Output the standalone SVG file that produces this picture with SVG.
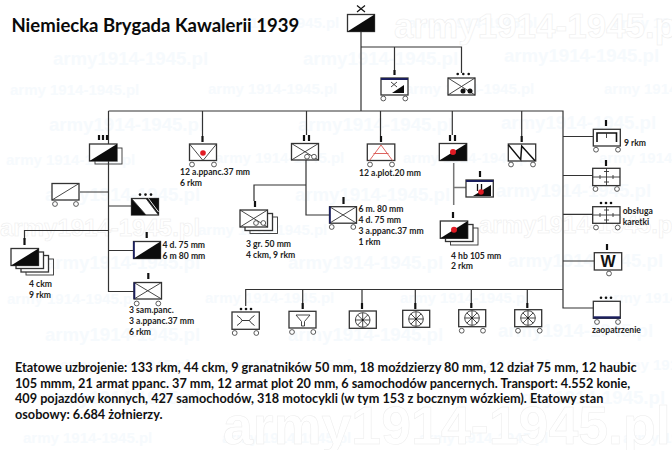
<svg xmlns="http://www.w3.org/2000/svg" width="672" height="450" viewBox="0 0 672 450">
<style>
.w1{font:bold 18.6px "Liberation Sans",sans-serif;fill:#f6fafd}
.w2{font:bold 15px "Liberation Sans",sans-serif;fill:#f6fafd}
.big{font-family:"Liberation Sans",sans-serif;font-weight:bold;fill:#fff;stroke:#ececec;stroke-width:.5}
.c{fill:none;stroke:#333;stroke-width:1.2}
.b{fill:#fff;stroke:#333;stroke-width:1.3}
.s{fill:none;stroke:#333;stroke-width:.9}
.k{fill:#0c0c0c}
.t{stroke:#111;stroke-width:2.2}
.wh{fill:#fff;stroke:#333;stroke-width:.8}
.d{fill:#111}
.n{fill:#1b1f5e}
.r{fill:#e01b24}
.l{font:bold 8.6px Lato,"Liberation Sans",sans-serif;fill:#222}
.p{font:bold 12.7px Lato,"Liberation Sans",sans-serif;fill:#111}
</style>
<rect width="672" height="450" fill="#fff"/>
<g id="watermarks">
<text class="w2" x="210" y="28">army 1914-1945.pl</text>
<text class="w2" x="408" y="28">army 1914-1945.pl</text>
<text class="w2" x="613" y="28">army 1914-1945.pl</text>
<text class="w1" x="53" y="65">army1914-1945.pl</text>
<text class="w1" x="303" y="65">army1914-1945.pl</text>
<text class="w1" x="504" y="62">army1914-1945.pl</text>
<text class="w2" x="10" y="95">army 1914-1945.pl</text>
<text class="w2" x="208" y="94">army 1914-1945.pl</text>
<text class="w2" x="405" y="94">army 1914-1945.pl</text>
<text class="w2" x="604" y="94">army 1914-1945.pl</text>
<text class="w1" x="49" y="131">army1914-1945.pl</text>
<text class="w1" x="298" y="131">army1914-1945.pl</text>
<text class="w1" x="501" y="129">army1914-1945.pl</text>
<text class="w2" x="6" y="165">army 1914-1945.pl</text>
<text class="w2" x="215" y="163">army 1914-1945.pl</text>
<text class="w2" x="403" y="163">army 1914-1945.pl</text>
<text class="w2" x="599" y="163">army 1914-1945.pl</text>
<text class="w1" x="45" y="201">army1914-1945.pl</text>
<text class="w1" x="295" y="201">army1914-1945.pl</text>
<text class="w1" x="496" y="197">army1914-1945.pl</text>
<text class="w2" x="198" y="235">army 1914-1945.pl</text>
<text class="w1" x="45" y="269">army1914-1945.pl</text>
<text class="w1" x="288" y="269">army1914-1945.pl</text>
<text class="w1" x="508" y="267">army1914-1945.pl</text>
<text class="w2" x="7" y="304">army 1914-1945.pl</text>
<text class="w2" x="205" y="303">army 1914-1945.pl</text>
<text class="w2" x="400" y="303">army 1914-1945.pl</text>
<text class="w2" x="605" y="303">army 1914-1945.pl</text>
<text class="w1" x="45" y="341">army1914-1945.pl</text>
<text class="w1" x="288" y="341">army1914-1945.pl</text>
<text class="w1" x="498" y="337">army1914-1945.pl</text>
<text class="w2" x="60" y="370">army 1914-1945.pl</text>
<text class="w2" x="222" y="370">army 1914-1945.pl</text>
<text class="w2" x="420" y="370">army 1914-1945.pl</text>
<text class="w2" x="613" y="370">army 1914-1945.pl</text>
<text class="w1" x="45" y="404">army1914-1945.pl</text>
<text class="w1" x="510" y="404">army1914-1945.pl</text>
<text class="w2" x="23" y="443">army 1914-1945.pl</text>
<text class="w2" x="222" y="443">army 1914-1945.pl</text>
<text class="w2" x="419" y="443">army 1914-1945.pl</text>
<text class="w2" x="623" y="443">army 1914-1945.pl</text>
</g>
<g id="big-watermarks">
<text class="big" x="394" y="38" font-size="35">army1914-1945.pl</text>
<text class="big" x="0" y="236" font-size="24">army1914-1945.pl</text>
<text class="big" x="479" y="233" font-size="24">army1914-1945.pl</text>
<text class="big" x="223" y="444" font-size="53.700">army1914-1945.pl</text>
</g>
<g id="connectors">
<path class="c" d="M361 32V111M361 47H461.500V73M394.500 47V70M108.500 111H563V308H593M108.500 111V291.500H134M202.500 111V136M306.500 111V135M380.500 111V136M452.300 111V135M521.700 111V136M306 160V215H329M306 185H254V201"/>
<path class="c" d="M108.500 192H80M108.500 206H131M108.500 230.500H24.500V240M108.500 250.500H133M563 136.500H593M563 175.500H593M563 214.300H593M563 261H594"/>
<path class="c" d="M563 289.500H245.700V306M302.700 289.500V303M362 289.500V303M415.300 289.500V303M471.300 289.500V303M527.300 289.500V303"/>
<path class="c" style="stroke:#777;stroke-width:1.500" d="M453.700 163V205M453.700 187.500H466"/>
</g>
<g id="n-brigade"><path d="M357 5.500L365 12M365 5.500L357 12" fill="none" stroke="#111" stroke-width="1.200"/><rect class="b" x="347.500" y="14.500" width="27" height="17"/><path class="k" d="M347.500 31.500L374.500 14.500V31.500Z"/></g>
<g id="n-hq"><path class="t" d="M394.500 70V75"/><rect class="b" x="381" y="78" width="27" height="17"/><rect class="n" x="381" y="78" width="27" height="2"/><path class="k" d="M392 93L404 85V93Z"/><path class="s" d="M391 82L397 87M391 87L397 82"/><circle class="wh" cx="383.300" cy="98.500" r="2.400"/><circle class="wh" cx="405.300" cy="98.500" r="2.400"/></g>
<g id="n-hq2"><circle class="d" cx="457.700" cy="74" r="1.300"/><circle class="d" cx="463.300" cy="74" r="1.300"/><circle class="d" cx="468.700" cy="74" r="1.300"/><rect class="b" x="448" y="78" width="27" height="17"/><path class="s" d="M448 78L475 95M448 95L475 78"/><circle class="d" cx="463" cy="91" r="2.500"/><circle class="d" cx="470" cy="91" r="2.500"/></g>
<g id="n-regiment"><path class="t" d="M99 135V140M103 135V140M107 135V140"/><rect class="s" x="95" y="148" width="27" height="16"/><rect class="b" x="89.500" y="144" width="27.500" height="17"/><path class="k" d="M89.500 161L117 144V161Z"/></g>
<g id="n-recon"><rect class="b" x="52" y="183.500" width="27" height="16.500"/><path class="s" d="M52 200L79 183.500"/><circle class="wh" cx="55" cy="204" r="2.400"/><circle class="wh" cx="76" cy="204" r="2.400"/></g>
<g id="n-sawtooth1"><circle class="d" cx="140" cy="194.600" r="1.300"/><circle class="d" cx="145.500" cy="194.600" r="1.300"/><circle class="d" cx="151" cy="194.600" r="1.300"/><rect class="b" x="131.500" y="198.500" width="27" height="16.500"/><path class="k" d="M131.500 215V198.500L146 215ZM146 198.500H158.500V215Z"/><path class="s" d="M131.500 198.500L146 215M146 198.500L158.500 215"/><path d="M148.500 198.500L158.500 212" fill="none" stroke="#fff" stroke-width=".9"/></g>
<g id="n-squadrons"><path class="t" d="M24.500 238V245"/><rect class="s" x="26" y="259" width="27.500" height="16"/><rect class="b" x="21" y="255.500" width="27.500" height="16.500"/><rect class="b" x="16" y="252" width="27.500" height="16.500"/><rect class="b" x="11" y="248.500" width="27.500" height="17"/><path class="k" d="M11 265.500L38.500 248.500V265.500Z"/></g>
<text class="l" x="29" y="286.500">4 ckm</text>
<text class="l" x="29" y="297.500">9 rkm</text>
<g id="n-artmix"><path class="t" d="M146.700 232V238"/><rect class="b" x="133.500" y="241.500" width="27" height="17"/><path class="k" d="M133.500 258.500L160.500 241.500V258.500Z"/><rect class="n" x="133" y="241.500" width="1.800" height="17"/></g>
<text class="l" x="162.500" y="247.700">4 d. 75 mm</text>
<text class="l" x="162.500" y="258.700">6 m 80 mm</text>
<g id="n-armored"><path class="t" d="M148.300 273V279"/><rect class="b" x="134" y="282.500" width="27.500" height="16.500"/><path class="s" d="M134 282.500L161.500 299M134 299L161.500 282.500"/><rect class="n" x="133.500" y="282.500" width="1.800" height="16.500"/><circle class="wh" cx="136.700" cy="303.500" r="2.400"/><circle class="wh" cx="158.300" cy="303.500" r="2.400"/></g>
<text class="l" x="129" y="313">3 sam.panc.</text>
<text class="l" x="129" y="324">3 a.ppanc.37 mm</text>
<text class="l" x="129" y="335">6 rkm</text>
<g id="n-atk"><path class="t" d="M202.500 136V142"/><rect class="b" x="189.500" y="144" width="27" height="16.500"/><path class="s" d="M189.500 144L203 160.500L216.500 144"/><circle class="r" cx="203" cy="153" r="2.800"/><circle class="wh" cx="192" cy="164.500" r="2.400"/><circle class="wh" cx="214" cy="164.500" r="2.400"/></g>
<text class="l" x="180" y="175">12 a.ppanc.37 mm</text>
<text class="l" x="180" y="186">6 rkm</text>
<g id="n-bn"><path class="t" d="M304 135V141M309 135V141"/><rect class="b" x="291.500" y="143.500" width="27" height="16.500"/><path class="s" d="M291.500 143.500L318.500 160M291.500 160L318.500 143.500"/><circle class="wh" cx="307" cy="156.700" r="2.400"/><circle class="wh" cx="314" cy="156.700" r="2.400"/></g>
<g id="n-gr"><path class="t" d="M255 201V207"/><rect class="s" x="250" y="217" width="27.500" height="16.500"/><rect class="b" x="245" y="213.500" width="27.500" height="17"/><rect class="b" x="240" y="210" width="27.500" height="17"/><path class="s" d="M240 210L267.500 227M240 227L267.500 210"/><circle class="wh" cx="256" cy="223" r="2.400"/><circle class="wh" cx="263.300" cy="223" r="2.400"/></g>
<text class="l" x="246" y="247">3 gr. 50 mm</text>
<text class="l" x="246" y="257.700">4 ckm, 9 rkm</text>
<g id="n-heavy"><path class="t" d="M343.500 197V204"/><rect class="b" x="329.500" y="206.700" width="27" height="16.500"/><path class="s" d="M329.500 206.700L356.500 223.200M329.500 223.200L356.500 206.700"/><rect class="n" x="329" y="206.700" width="1.800" height="16.500"/><circle class="wh" cx="331.700" cy="227" r="2.400"/><circle class="wh" cx="353.300" cy="227" r="2.400"/></g>
<text class="l" x="358.500" y="212.300">6 m. 80 mm</text>
<text class="l" x="358.500" y="223.300">4 d. 75 mm</text>
<text class="l" x="358.500" y="234.300">3 a.ppanc.37 mm</text>
<text class="l" x="358.500" y="245">1 rkm</text>
<g id="n-aa"><path class="t" d="M381 136V142"/><rect class="b" x="367.300" y="144" width="27.500" height="16.500"/><path d="M369.500 160.500L381 145L392.500 160.500M373.500 153.500H388.500" fill="none" stroke="#d9534f" stroke-width=".9"/><circle class="wh" cx="370" cy="164.500" r="2.400"/><circle class="wh" cx="392" cy="164.500" r="2.400"/></g>
<text class="l" x="359" y="175.700">12 a.plot.20 mm</text>
<g id="n-arty"><path class="t" d="M450 135V141M455 135V141"/><rect class="b" x="439.300" y="143.500" width="27.400" height="17"/><path class="k" d="M439.300 160.500L466.700 143.500V160.500Z"/><circle class="r" cx="453" cy="152" r="3"/></g>
<g id="n-artyhq"><path class="t" d="M480 171V177"/><rect class="b" x="466" y="180" width="27.300" height="17"/><rect class="n" x="466" y="180" width="27.300" height="2"/><path class="k" d="M473 196L491 185V196Z"/><path class="t" d="M477.500 184V191M481.500 184V191" style="stroke-width:1.300"/><circle class="r" cx="481" cy="192" r="2.800"/></g>
<g id="n-how"><path class="t" d="M453 212V218"/><rect class="s" x="450.500" y="228" width="27.500" height="17"/><rect class="b" x="445.500" y="224.500" width="27.500" height="17"/><rect class="b" x="440.300" y="221" width="27.400" height="17.300"/><path class="k" d="M440.300 238.300L467.700 221V238.300Z"/><circle class="r" cx="454" cy="229.700" r="3"/></g>
<text class="l" x="451" y="258.700">4 hb 105 mm</text>
<text class="l" x="451" y="269">2 rkm</text>
<g id="n-saw2"><path class="t" d="M521.700 136V142"/><rect class="b" x="508.300" y="144" width="27.400" height="17"/><path d="M508.300 144.700L520.700 159.700L521.700 146L535 160.700" fill="none" stroke="#111" stroke-width="1.500"/><circle class="wh" cx="511" cy="164.500" r="2.400"/><circle class="wh" cx="533" cy="164.500" r="2.400"/></g>
<g id="n-mg"><path class="t" d="M606 120V126"/><rect class="b" x="593.300" y="129.300" width="27" height="16.700"/><path d="M597 142V133H616.500V142" fill="none" stroke="#111" stroke-width="1.600"/><path class="s" d="M606.500 133V138"/><circle class="wh" cx="596" cy="149.700" r="2.400"/><circle class="wh" cx="618" cy="149.700" r="2.400"/></g>
<text class="l" x="624" y="145.700">9 rkm</text>
<g id="n-cross1"><path class="t" d="M606 160V166"/><rect class="b" x="592.700" y="168.300" width="27.300" height="17.300"/><path class="s" d="M606.500 168.300V185.600M592.700 177H620M600 175V179M613 175V179M604 171.500H609M604 182H609"/><circle class="wh" cx="595.500" cy="189" r="2.400"/><circle class="wh" cx="617" cy="189" r="2.400"/></g>
<g id="n-cross2"><circle class="d" cx="601" cy="203" r="1.300"/><circle class="d" cx="606" cy="203" r="1.300"/><circle class="d" cx="611" cy="203" r="1.300"/><rect class="b" x="592.700" y="206.700" width="27.300" height="16.600"/><path class="s" d="M606.500 206.700V223.300M592.700 215H620M600 213V217M613 213V217M604 210H609M604 220H609"/><circle class="wh" cx="596" cy="227.500" r="2.400"/><circle class="wh" cx="617.700" cy="227.500" r="2.400"/></g>
<text class="l" x="622.700" y="214.300">obsługa</text>
<text class="l" x="622.700" y="225.300">karetki</text>
<g id="n-w"><path class="t" d="M607 244V250"/><rect class="b" x="594.300" y="252.700" width="27.400" height="17.300"/><text x="608" y="267" text-anchor="middle" style="font:bold 16px 'Liberation Sans',sans-serif;fill:#111">W</text><circle class="wh" cx="609" cy="273.500" r="2.400"/></g>
<g id="n-supply"><circle class="d" cx="601" cy="297.700" r="1.300"/><circle class="d" cx="606" cy="297.700" r="1.300"/><circle class="d" cx="611" cy="297.700" r="1.300"/><rect class="b" x="593.300" y="301.300" width="27" height="17"/><rect class="n" x="593.300" y="316.300" width="27" height="2.300"/><circle class="wh" cx="597" cy="322" r="2.400"/><circle class="wh" cx="618" cy="322" r="2.400"/></g>
<text class="l" x="592" y="332.700">zaopatrzenie</text>
<g id="n-bot1"><circle class="d" cx="241" cy="309" r="1.300"/><circle class="d" cx="246" cy="309" r="1.300"/><circle class="d" cx="251" cy="309" r="1.300"/><rect class="b" x="232" y="312" width="27.300" height="17.300"/><path d="M237 315.500Q242 319 242 320.500M237 325.500Q242 322 242 320.500H249.500M254.500 315.500Q249.500 319 249.500 320.500M254.500 325.500Q249.500 322 249.500 320.500" fill="none" stroke="#222" stroke-width=".9"/><circle class="wh" cx="234.700" cy="333" r="2.400"/><circle class="wh" cx="256.300" cy="333" r="2.400"/></g>
<g id="n-bot2"><path class="t" d="M302.700 303V309"/><rect class="b" x="289" y="311.300" width="27" height="16.700"/><path d="M296 315H310L304.500 321.500V326H301.500V321.500Z" fill="none" stroke="#333" stroke-width=".9"/><circle class="wh" cx="292" cy="332" r="2.400"/><circle class="wh" cx="313.300" cy="332" r="2.400"/></g>
<g id="n-bot3"><path class="t" d="M362 303V309"/><rect class="b" x="349.300" y="311" width="27" height="17.300"/><circle class="s" cx="362.700" cy="320" r="7.300"/><path class="s" d="M355.400 320H370M362.700 312.700V327.300M357.500 314.800L367.900 325.200M357.500 325.200L367.900 314.800"/><circle class="d" cx="362.700" cy="320" r="1"/></g>
<g id="n-bot4"><path class="t" d="M415.300 303V309"/><rect class="b" x="402.700" y="310.300" width="27" height="17"/><circle class="s" cx="416" cy="319" r="7.300"/><path class="s" d="M408.700 319H423.300M416 311.700V326.300M410.800 313.800L421.200 324.200M410.800 324.200L421.200 313.800"/><circle class="d" cx="416" cy="319" r="1"/></g>
<g id="n-bot5"><path class="t" d="M471.300 303V308"/><rect class="b" x="458.700" y="309.700" width="27" height="17"/><circle class="s" cx="472" cy="318" r="7.300"/><path class="s" d="M464.700 318H479.300M472 310.700V325.300M466.800 312.800L477.200 323.200M466.800 323.200L477.200 312.800"/><circle class="d" cx="472" cy="318" r="1"/><circle class="wh" cx="461.700" cy="330.700" r="2.400"/><circle class="wh" cx="483" cy="330.700" r="2.400"/></g>
<g id="n-bot6"><path class="t" d="M527.300 303V308"/><rect class="b" x="514.700" y="309.700" width="27" height="17"/><circle class="s" cx="528" cy="318" r="7.300"/><path class="s" d="M520.700 318H535.300M528 310.700V325.300M522.800 312.800L533.200 323.200M522.800 323.200L533.200 312.800"/><circle class="d" cx="528" cy="318" r="1"/><circle class="wh" cx="518" cy="330.700" r="2.400"/><circle class="wh" cx="539.700" cy="330.700" r="2.400"/></g>
<text x="11.500" y="32" style="font:bold 18.500px Lato,'Liberation Sans',sans-serif;fill:#0a0a0a">Niemiecka Brygada Kawalerii 1939</text>
<text class="p" x="15" y="371.700">Etatowe uzbrojenie: 133 rkm, 44 ckm, 9 granatników 50 mm, 18 moździerzy 80 mm, 12 dział 75 mm, 12 haubic</text>
<text class="p" x="15" y="387.700">105 mmm, 21 armat ppanc. 37 mm, 12 armat plot 20 mm, 6 samochodów pancernych. Transport: 4.552 konie,</text>
<text class="p" x="15" y="403.300">409 pojazdów konnych, 427 samochodów, 318 motocykli (w tym 153 z bocznym wózkiem). Etatowy stan</text>
<text class="p" x="15" y="419.300">osobowy: 6.684 żołnierzy.</text>
</svg>
